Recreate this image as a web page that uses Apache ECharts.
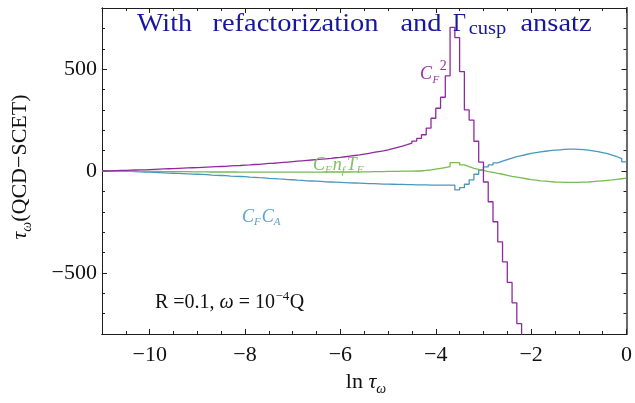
<!DOCTYPE html>
<html><head><meta charset="utf-8">
<script src="https://cdn.jsdelivr.net/npm/echarts@6/dist/echarts.min.js"></script>
<style>html,body{margin:0;padding:0;background:#fff}#c{width:635px;height:403px}</style>
</head><body><div id="c"></div>
<script>
// ---- data (histogram bins of width 0.1 in ln tau, starting at -11) ----
const binStart = -11.0;
const binWidth = 0.1;
const xTickValues = [-10, -8, -6, -4, -2, 0];
const yTickValues = [-500, 0, 500];

// C_F^2 (bins -11.0 ... -2.2; the last one runs off the bottom of the frame)
const cf2 = [
  0, 1, 2, 3, 3, 4, 5, 6, 6, 7,
  8, 9, 10, 11, 12, 13, 14, 15, 16, 17,
  18, 19, 20, 21, 22, 23, 25, 26, 27, 29,
  30, 32, 33, 35, 37, 38, 40, 42, 44, 46,
  48, 50, 52, 54, 56, 58, 60, 62, 65, 67,
  70, 73, 76, 79, 83, 87, 91, 95, 99, 104,
  110, 116, 122, 129, 137, 147, 160, 178, 210, 259,
  308, 362, 467, 705, 655, 488, 300, 250, 146, 44,
  -54, -151, -249, -348, -446, -547, -647, -749, -850
];
// C_F C_A (bins -11.0 ... -0.1)
const cfca = [
  0, 0, -1, -1, -2, -2, -3, -4, -5, -6,
  -7, -8, -9, -10, -11, -12, -13, -14, -15, -16,
  -17, -18, -20, -21, -22, -23, -25, -26, -27, -28,
  -30, -31, -33, -34, -36, -37, -39, -40, -42, -43,
  -45, -46, -48, -49, -50, -51, -53, -54, -55, -56,
  -57, -58, -59, -60, -61, -62, -62, -63, -64, -64,
  -65, -66, -66, -67, -67, -68, -68, -68, -69, -69,
  -69, -69, -69, -69, -93, -82, -65, -44, -16, 5,
  20, 30, 40, 48, 56, 63, 70, 76, 81, 86,
  90, 94, 97, 100, 102, 104, 106, 107, 107, 106,
  105, 102, 99, 95, 90, 85, 78, 70, 61, 45
];
// C_F n_f T_F (bins -11.0 ... -0.1)
const cfnftf = [
  0, 0, 0, -1, -1, -1, -1, -2, -2, -2,
  -2, -2, -3, -3, -3, -3, -3, -3, -4, -4,
  -4, -4, -5, -5, -5, -5, -5, -5, -6, -6,
  -6, -6, -6, -6, -6, -6, -6, -6, -6, -6,
  -6, -6, -6, -6, -6, -6, -5, -5, -5, -5,
  -5, -5, -4, -4, -4, -4, -3, -3, -3, -2,
  -2, -2, -1, -1, -1, 0, 0, 3, 5, 9,
  13, 17, 21, 41, 41, 30, 21, 13, 8, 3,
  -3, -7, -12, -16, -21, -26, -30, -34, -38, -42,
  -45, -48, -50, -52, -54, -55, -56, -56, -56, -56,
  -55, -54, -52, -50, -48, -46, -44, -41, -38, -35
];

// ---- build step-line data from the bins ----
function binPoints(vals, closeLast) {
  const pts = vals.map((v, i) => [+(binStart + i * binWidth).toFixed(2), v]);
  if (closeLast) pts.push([+(binStart + vals.length * binWidth).toFixed(2), vals[vals.length - 1]]);
  return pts;
}

const serif = '"Liberation Serif", "Times New Roman", serif';
const fmt = v => (v < 0 ? '\u2212' + (-v) : String(v));
const ink = '#1e1e1e';

const mctx = document.createElement('canvas').getContext('2d');
function tw(text, size, italic) { mctx.font = (italic ? 'italic ' : '') + size + 'px ' + serif; return mctx.measureText(text).width; }
function txt(text, x, baseline, size, color, italic, align) {
  return { type: 'text', x: x, y: baseline - 0.34 * size, silent: true, z: 50,
    style: { text: text, fill: color, font: (italic ? 'italic ' : '') + size + 'px ' + serif,
      align: align || 'left', verticalAlign: 'middle' } };
}
// parts: [text, size, italic, dy, gapBefore]
function chain(x0, baseline, color, parts) {
  const out = []; let x = x0;
  parts.forEach(p => { x += (p[4] || 0); out.push(txt(p[0], x, baseline + (p[3] || 0), p[1], color, p[2])); x += tw(p[0], p[1], p[2]); });
  return out;
}
function chainWidth(parts) { return parts.reduce((s, p) => s + (p[4] || 0) + tw(p[0], p[1], p[2]), 0); }
// a word centred on cx, widened a little to the span it has in the original (letter-spaced) title
function spacedWord(text, left, right, baseline, size, color) {
  const el = txt(text, (left + right) / 2, baseline, size, color, false, 'center');
  el.scaleX = Math.min((right - left) / tw(text, size, false), 1.14);
  return el;
}

function xAxisDef(pos, major) {
  const a = { type: 'value', min: -11, max: 0, position: pos,
    axisLine: { show: true, onZero: false, lineStyle: { color: ink, width: 1 } },
    splitLine: { show: false } };
  if (major) {
    a.axisTick = { show: true, inside: true, length: 5, customValues: xTickValues, lineStyle: { color: ink } };
    a.axisLabel = pos === 'bottom'
      ? { show: true, customValues: xTickValues, formatter: fmt, fontFamily: serif, fontSize: 22, color: '#111', margin: 10 }
      : { show: false };
  } else {
    a.interval = 0.5;
    a.axisTick = { show: true, inside: true, length: 3, lineStyle: { color: ink } };
    a.axisLabel = { show: false };
  }
  return a;
}
function yAxisDef(pos, major) {
  const col = pos === 'right' ? '#6a6a6a' : ink;
  const a = { type: 'value', min: -800, max: 800, position: pos,
    axisLine: { show: true, onZero: false, lineStyle: { color: col, width: pos === 'right' ? 2 : 1 } },
    splitLine: { show: false } };
  if (major) {
    a.axisTick = { show: true, inside: true, length: 5, customValues: yTickValues, lineStyle: { color: ink } };
    a.axisLabel = pos === 'left'
      ? { show: true, customValues: yTickValues, formatter: fmt, fontFamily: serif, fontSize: 22, color: '#111', margin: 5 }
      : { show: false };
  } else {
    a.interval = 100;
    a.axisTick = { show: true, inside: true, length: 3, lineStyle: { color: ink } };
    a.axisLabel = { show: false };
  }
  return a;
}

// ---- annotations ----
const purple = '#8e2a9e', teal = '#4a97bd', green = '#78bb55', blue = '#1616a2';
const graphics = [];
// title
graphics.push(spacedWord('With', 137, 192, 32.5, 25, blue));
graphics.push(spacedWord('refactorization', 203, 388, 32.5, 25, blue));
graphics.push(spacedWord('and', 400, 442, 32.5, 25, blue));
graphics.push(spacedWord('\u0393', 453, 466, 32.5, 25, blue));
graphics.push(spacedWord('cusp', 468, 507, 35.5, 18, blue));
graphics.push(spacedWord('ansatz', 517, 595, 32.5, 25, blue));
// series labels
graphics.push(...chain(420, 80, '#9532a5', [['C', 18, true], ['F', 11, true, 4, 0.5], ['2', 14, false, -9, 0.5]]));
graphics.push(...chain(313, 171, '#7fc060', [['C', 18, true], ['F', 11, true, 2.5, 0], ['n', 18, true, 0, 1], ['f', 11, true, 4, 0], ['T', 18, true, 0, 2], ['F', 11, true, 2.5, 0]]));
graphics.push(...chain(242, 223, '#5aa4c8', [['C', 18, true], ['F', 11, true, 2.5, 0], ['C', 18, true, 0, 1], ['A', 11, true, 2.5, 0]]));
// parameter note
graphics.push(...chain(155, 310, '#111', [['R =0.1, ', 20, false], ['\u03c9', 20, true], [' = 10', 20, false], ['\u22124', 13, false, -9, 0.5], ['Q', 20, false, 0, 0.5]]));
// x axis name
const xName = [['ln ', 22, false], ['\u03c4', 22, true], ['\u03c9', 14, true, 4, 0]];
graphics.push(...chain(366 - chainWidth(xName) / 2, 390, '#111', xName));
// y axis name (rotated)
const yName = [['\u03c4', 22, true], ['\u03c9', 14, true, 4, 0], ['(QCD\u2212SCET)', 22, false]];
graphics.push({ type: 'group', x: 28, y: 167, rotation: Math.PI / 2, silent: true,
  children: chain(-chainWidth(yName) / 2, 0, '#111', yName) });

const chart = echarts.init(document.getElementById('c'), null, { renderer: 'canvas', width: 635, height: 403 });
chart.setOption({
  animation: false,
  backgroundColor: '#ffffff',
  grid: { left: 102, right: 5, top: 8, bottom: 69, containLabel: false },
  xAxis: [xAxisDef('bottom', true), xAxisDef('bottom', false), xAxisDef('top', true), xAxisDef('top', false)],
  yAxis: [yAxisDef('left', true), yAxisDef('left', false), yAxisDef('right', true), yAxisDef('right', false)],
  series: [
    { name: 'C_F^2', type: 'line', step: 'end', xAxisIndex: 0, yAxisIndex: 0, showSymbol: false, symbol: 'none',
      clip: true, lineStyle: { color: purple, width: 1.3 }, data: binPoints(cf2, false), z: 3 },
    { name: 'C_F C_A', type: 'line', step: 'end', xAxisIndex: 0, yAxisIndex: 0, showSymbol: false, symbol: 'none',
      clip: true, lineStyle: { color: teal, width: 1.3 }, data: binPoints(cfca, true), z: 2 },
    { name: 'C_F n_f T_F', type: 'line', step: 'end', xAxisIndex: 0, yAxisIndex: 0, showSymbol: false, symbol: 'none',
      clip: true, lineStyle: { color: green, width: 1.3 }, data: binPoints(cfnftf, true), z: 2 }
  ],
  graphic: graphics
});
</script>
</body></html>
